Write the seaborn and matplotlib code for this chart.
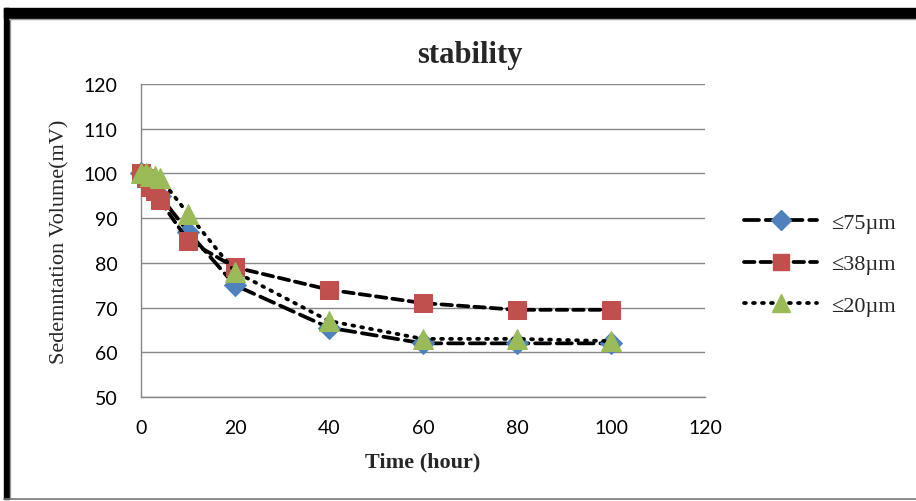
import matplotlib.pyplot as plt
from matplotlib.patches import Rectangle
from matplotlib.lines import Line2D
import pandas as pd
import seaborn as sns

# data
hours = [0, 1, 2, 3, 4, 10, 20, 40, 60, 80, 100]
vol_75 = [100, 99, 97.5, 96, 95, 87, 75, 65.5, 62, 62, 62]
vol_38 = [100, 99, 97, 96, 94, 85, 79, 74, 71, 69.5, 69.5]
vol_20 = [100, 100, 99.5, 99.5, 99, 91, 78, 67, 63, 63, 62.5]
series_labels = ['≤75µm', '≤38µm', '≤20µm']
x_ticks = [0, 20, 40, 60, 80, 100, 120]
y_ticks = [50, 60, 70, 80, 90, 100, 110, 120]

sns.set_style("white")
plt.rcParams['font.family'] = ['Liberation Serif', 'DejaVu Serif']

W, H = 916, 502
fig = plt.figure(figsize=(W / 100, H / 100), dpi=100)
ax = fig.add_axes([141 / W, 1 - 398 / H, 564 / W, 313 / H])

styles = [
    dict(color='#4F81BD', marker='D', ms=11, ls=(0, (4.0, 1.8))),
    dict(color='#C0504D', marker='s', ms=13, ls=(0, (2.8, 1.6))),
    dict(color='#9BBB59', marker='^', ms=14, ls=(0, (0.5, 1.9))),
]
all_vals = [vol_75, vol_38, vol_20]

for vals, st, lab in zip(all_vals, styles, series_labels):
    df = pd.DataFrame({'hour': hours, 'vol': vals})
    sns.lineplot(data=df, x='hour', y='vol', ax=ax, color='black',
                 linewidth=2.7, linestyle=st['ls'], dash_capstyle='round',
                 marker=st['marker'], markersize=st['ms'],
                 markerfacecolor=st['color'], markeredgecolor=st['color'],
                 label=lab, legend=False, clip_on=False, zorder=3)

ax.set_xlim(0, 120)
ax.set_ylim(50, 120)
ax.set_xticks(x_ticks)
ax.set_yticks(y_ticks)
ax.tick_params(axis='both', labelsize=14, colors='#868686', length=6,
               width=1, direction='out')
ax.tick_params(axis='x', pad=10)
ax.tick_params(axis='y', length=9, pad=8)
for lbl in ax.get_xticklabels() + ax.get_yticklabels():
    lbl.set_family(['Lato', 'DejaVu Sans'])
    lbl.set_color('black')
ax.yaxis.grid(True, color='#868686', linewidth=1)
ax.xaxis.grid(False)
for side in ['top', 'right']:
    ax.spines[side].set_visible(False)
for side in ['left', 'bottom']:
    ax.spines[side].set_color('#868686')
    ax.spines[side].set_linewidth(1)

ax.set_xlabel('Time (hour)', fontsize=16, fontweight='bold', labelpad=11)
ax.set_ylabel('Sedemntation Volume(mV)', fontsize=16, labelpad=10)
fig.text(470 / W, 1 - 55 / H, 'stability', fontsize=22, fontweight='bold',
         ha='center', va='center')

legend_ms = [10, 12, 13]
handles = [Line2D([0], [0], color='black', lw=2.7, ls=st['ls'],
                  dash_capstyle='round', marker=st['marker'],
                  ms=m, mfc=st['color'], mec=st['color'])
           for st, m in zip(styles, legend_ms)]
fig.legend(handles, series_labels, loc='center left',
           bbox_to_anchor=(724 / W, 1 - 265 / H), frameon=False,
           fontsize=16, handlelength=3.3, handletextpad=0.6,
           labelspacing=0.95)

# frame around the picture
fig.patches.append(Rectangle((4 / W, 1 - 19 / H), 1, 10 / H, color='black',
                             transform=fig.transFigure, figure=fig))
fig.patches.append(Rectangle((4 / W, 1 - 500 / H), 5 / W, 491 / H,
                             color='black', transform=fig.transFigure,
                             figure=fig))
fig.add_artist(Line2D([9 / W, 1], [1 - 20 / H, 1 - 20 / H], color='#999999',
                      lw=1, transform=fig.transFigure))
fig.add_artist(Line2D([10 / W, 10 / W], [1 - 20 / H, 1 - 499 / H],
                      color='#999999', lw=1, transform=fig.transFigure))
fig.add_artist(Line2D([4 / W, 1], [1 - 499.5 / H, 1 - 499.5 / H],
                      color='#777777', lw=1.2, transform=fig.transFigure))

fig.savefig('out.png', dpi=100)
